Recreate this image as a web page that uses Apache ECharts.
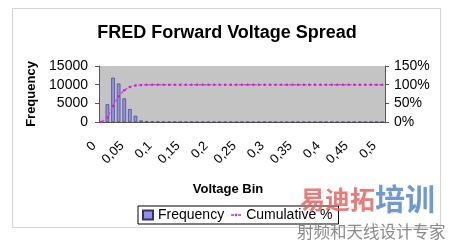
<!DOCTYPE html>
<html><head><meta charset="utf-8">
<script src="https://cdn.jsdelivr.net/npm/echarts@6/dist/echarts.min.js"></script>
<style>html,body{margin:0;padding:0;background:#fff}#c{width:454px;height:240px}</style>
</head><body><div id="c"></div>
<script>
var categories = ['0','0,01','0,02','0,03','0,04','0,05','0,06','0,07','0,08','0,09','0,1','0,11','0,12','0,13','0,14','0,15','0,16','0,17','0,18','0,19','0,2','0,21','0,22','0,23','0,24','0,25','0,26','0,27','0,28','0,29','0,3','0,31','0,32','0,33','0,34','0,35','0,36','0,37','0,38','0,39','0,4','0,41','0,42','0,43','0,44','0,45','0,46','0,47','0,48','0,49','0,5'];
var frequency = [0,4750,11850,10300,6300,3450,1650,400,200,120,80,50,30,20,10,0,0,0,0,0,0,0,0,0,0,0,0,0,0,0,0,0,0,0,0,0,0,0,0,0,0,0,0,0,0,0,0,0,0,0,0];
var cumulative = [0,12,43,69,85,94,98,99,99.5,99.8,100,100,100,100,100,100,100,100,100,100,100,100,100,100,100,100,100,100,100,100,100,100,100,100,100,100,100,100,100,100,100,100,100,100,100,100,100,100,100,100,100];
var leftTicks = [0,5000,10000,15000];
var rightTicks = [0,50,100,150];

var chart = echarts.init(document.getElementById('c'));
var F = 'Arial, "Liberation Sans", sans-serif';
chart.setOption({
  animation:false,
  textStyle:{fontFamily:F},
  title:{text:'FRED Forward Voltage Spread',left:'center',top:19,textStyle:{fontFamily:F,fontSize:18,fontWeight:'bold',color:'#000'}},
  graphic:[
    {type:'rect',shape:{x:12.5,y:8.5,width:428,height:219},style:{fill:'none',stroke:'#aaa',lineWidth:1,lineDash:[1,1]},z:-1},
    {type:'text',left:300,top:187,style:{text:'易迪拓',fontSize:25,fontWeight:'bold',fill:'rgba(228,100,100,0.85)',fontFamily:'"Noto Sans CJK SC"'},z:100},
    {type:'text',left:375,top:184,style:{text:'培训',fontSize:30,fontWeight:'bold',fill:'rgba(85,135,205,0.85)',fontFamily:'"Noto Sans CJK SC"'},z:100},
    {type:'text',left:297,top:223,style:{text:'射频和天线设计专家',fontSize:16.5,fill:'#8a8a8a',fontFamily:'"Noto Sans CJK SC"'},z:100}
  ],
  legend:{bottom:16,left:138,itemWidth:10,itemHeight:9,itemGap:7,padding:[2,6,2,4],borderColor:'#000',borderWidth:1,backgroundColor:'#fff',
    textStyle:{fontFamily:F,fontSize:14,color:'#000'},
    data:[{name:'Frequency',icon:'rect'},{name:'Cumulative %',icon:'path://M0,4h3v1.5h-3z M4,3.5h2v2.5h-2z M7,4h3v1.5h-3z'}]},
  grid:{left:99,right:69,top:66,bottom:118,backgroundColor:'#c4c4c4',show:true,borderWidth:0},
  xAxis:{type:'category',data:categories,
    name:'Voltage Bin',nameLocation:'middle',nameGap:61,nameTextStyle:{fontFamily:F,fontSize:13,fontWeight:'bold',color:'#000',padding:[0,28,0,0]},
    axisLine:{lineStyle:{color:'#555'}},
    axisTick:{interval:0,length:3,lineStyle:{color:'#444'}},
    axisLabel:{interval:4,rotate:45,fontSize:13,color:'#000',fontFamily:F,margin:14,padding:[0,11,0,0]}},
  yAxis:[
    {type:'value',min:0,max:15000,interval:5000,name:'Frequency',nameLocation:'middle',nameGap:61,
      nameTextStyle:{fontFamily:F,fontSize:13,fontWeight:'bold',color:'#000'},
      axisLine:{show:true,lineStyle:{color:'#555'}},axisTick:{show:true,length:4},splitLine:{show:false},
      axisLabel:{fontSize:14,color:'#000',margin:11,formatter:function(v){return String(v);}}},
    {type:'value',min:0,max:150,interval:50,
      axisLine:{show:true,lineStyle:{color:'#555'}},axisTick:{show:true,length:4},splitLine:{show:false},
      axisLabel:{fontSize:14,color:'#000',margin:9,formatter:'{value}%'}}
  ],
  series:[
    {name:'Frequency',type:'bar',data:frequency,barWidth:3.5,itemStyle:{color:'#9090ee',borderColor:'#333366',borderWidth:0.6},z:2},
    {name:'Cumulative %',type:'line',yAxisIndex:1,data:cumulative,symbol:'circle',symbolSize:2.5,
      lineStyle:{color:'#e040e0',width:1.5,type:[3,2]},itemStyle:{color:'#cc22cc'},z:3}
  ]
});
</script></body></html>
